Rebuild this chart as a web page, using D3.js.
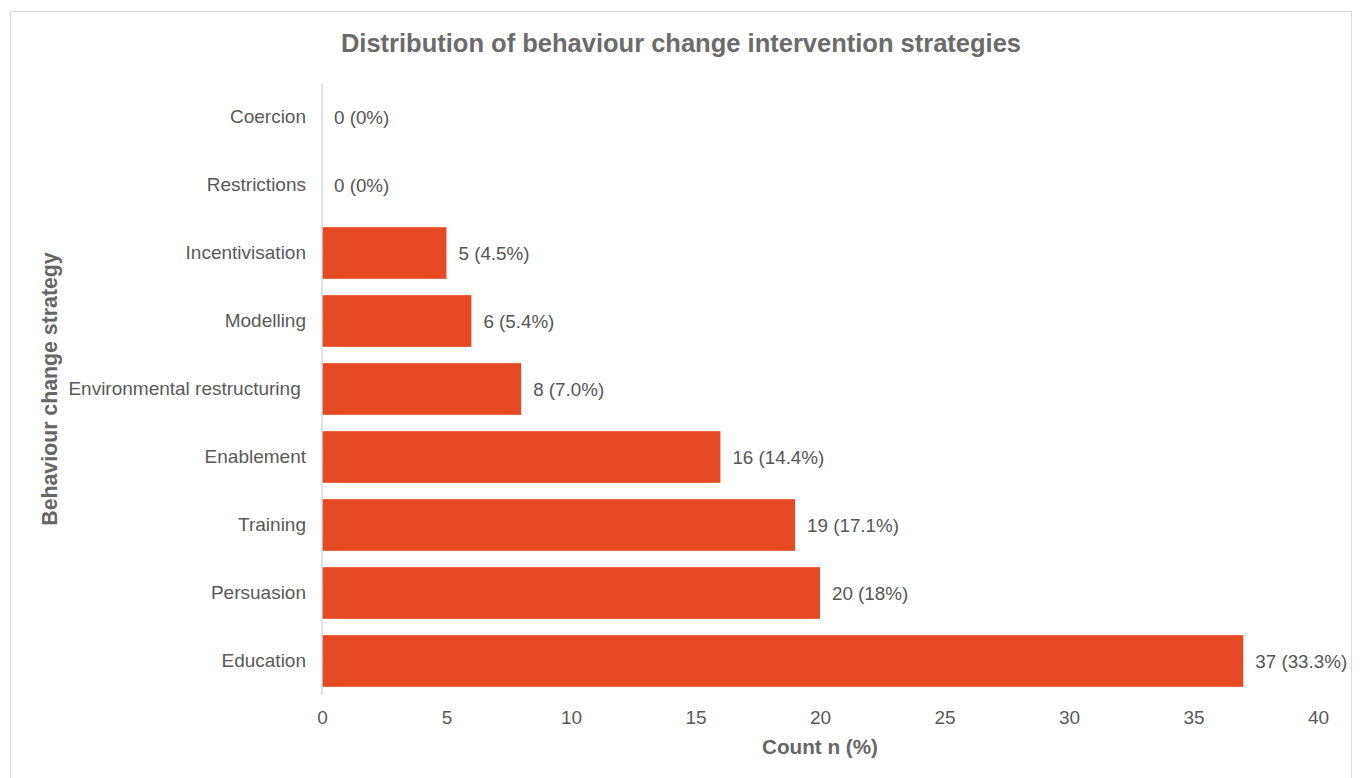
<!DOCTYPE html>
<html>
<head>
<meta charset="utf-8">
<script src="https://cdn.jsdelivr.net/npm/d3@7"></script>
<style>
  body { margin: 0; background: #fff; }
  text { font-family: "Liberation Sans", Arial, sans-serif; }
</style>
</head>
<body>
<script>
// data, top to bottom
var strategies = ["Coercion", "Restrictions", "Incentivisation", "Modelling", "Environmental restructuring ", "Enablement", "Training", "Persuasion", "Education"];
var counts = [0, 0, 5, 6, 8, 16, 19, 20, 37];
var valueLabels = ["0 (0%)", "0 (0%)", "5 (4.5%)", "6 (5.4%)", "8 (7.0%)", "16 (14.4%)", "19 (17.1%)", "20 (18%)", "37 (33.3%)"];
var xTicks = [0, 5, 10, 15, 20, 25, 30, 35, 40];

var W = 1361, H = 778;
var svg = d3.select("body").append("svg").attr("width", W).attr("height", H);

// outer frame
svg.append("rect")
  .attr("x", 10.5).attr("y", 11.5)
  .attr("width", 1341).attr("height", 780)
  .attr("fill", "#fff").attr("stroke", "#d9d9d9");

var x = d3.scaleLinear().domain([0, 40]).range([322, 1318]);
var y = d3.scaleBand().domain(strategies).range([83, 695]).paddingInner(0.24).paddingOuter(0.12);

svg.append("text")
  .attr("x", 681).attr("y", 52)
  .attr("text-anchor", "middle")
  .attr("font-size", 25.5).attr("font-weight", "bold")
  .attr("fill", "#6b6b6b")
  .text("Distribution of behaviour change intervention strategies");

// bars
svg.selectAll("rect.bar")
  .data(counts)
  .enter().append("rect")
  .attr("class", "bar")
  .attr("x", x(0))
  .attr("y", function (d, i) { return y(strategies[i]); })
  .attr("width", function (d) { return x(d) - x(0); })
  .attr("height", y.bandwidth())
  .attr("fill", "#e64a24");

// value labels
svg.selectAll("text.val")
  .data(counts)
  .enter().append("text")
  .attr("class", "val")
  .attr("x", function (d) { return x(d) + 12; })
  .attr("y", function (d, i) { return y(strategies[i]) + y.bandwidth() / 2; })
  .attr("dy", "0.35em")
  .attr("font-size", 18.8)
  .attr("fill", "#555")
  .text(function (d, i) { return valueLabels[i]; });

// y axis
var yAxis = svg.append("g")
  .attr("transform", "translate(322,0)")
  .call(d3.axisLeft(y).tickSize(0).tickPadding(16));
yAxis.select(".domain").attr("stroke", "#d9d9d9").attr("stroke-width", 1.5)
  .attr("d", "M0,83V695");
yAxis.selectAll("text")
  .attr("font-size", 19).attr("fill", "#595959")
  .attr("font-family", "Liberation Sans, Arial, sans-serif")
  .style("white-space", "pre");

// x axis
var xAxis = svg.append("g")
  .attr("transform", "translate(0,695)")
  .call(d3.axisBottom(x).tickValues(xTicks).tickSize(0).tickPadding(16));
xAxis.select(".domain").remove();
xAxis.selectAll("text")
  .attr("font-size", 19).attr("fill", "#595959")
  .attr("font-family", "Liberation Sans, Arial, sans-serif");

svg.append("text")
  .attr("x", 820).attr("y", 754)
  .attr("text-anchor", "middle")
  .attr("font-size", 20.7).attr("font-weight", "bold")
  .attr("fill", "#666")
  .text("Count n (%)");

svg.append("text")
  .attr("transform", "translate(57,389) rotate(-90)")
  .attr("text-anchor", "middle")
  .attr("font-size", 21.3).attr("font-weight", "bold")
  .attr("fill", "#666")
  .text("Behaviour change strategy");
</script>
</body>
</html>
